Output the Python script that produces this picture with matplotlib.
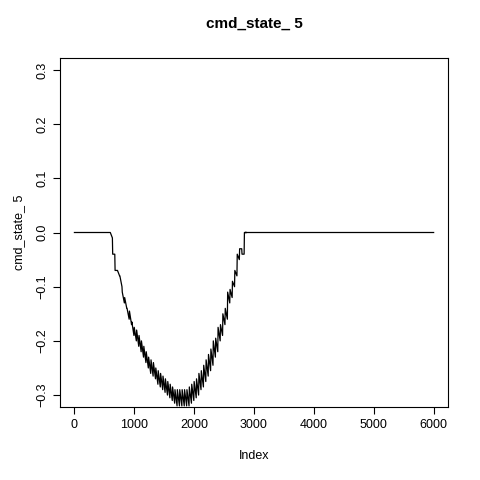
import numpy as np
import matplotlib
matplotlib.use("Agg")
import matplotlib.pyplot as plt

# tooth positions along the index and their low / high values
tooth_x = list(range(600, 2880, 40))
tooth_low = [-0.01, -0.04, -0.07, -0.08, -0.10, -0.13, -0.14, -0.16, -0.17, -0.19,
             -0.20, -0.21, -0.22, -0.23, -0.24, -0.25, -0.26, -0.265, -0.27, -0.28,
             -0.285, -0.29, -0.295, -0.30, -0.305, -0.31, -0.315, -0.32, -0.32, -0.32,
             -0.32, -0.32, -0.32, -0.315, -0.31, -0.305, -0.30, -0.29, -0.285, -0.275,
             -0.265, -0.255, -0.245, -0.23, -0.22, -0.20, -0.19, -0.17, -0.16, -0.13,
             -0.12, -0.10, -0.08, -0.05, -0.03, -0.04, 0.0]
tooth_amp = [0.01, 0.0, 0.0, 0.01, 0.02, 0.02, 0.02, 0.02, 0.025, 0.025,
             0.025, 0.03, 0.03, 0.03, 0.03, 0.03, 0.03, 0.03, 0.03, 0.03,
             0.03, 0.03, 0.03, 0.03, 0.03, 0.03, 0.03, 0.03, 0.03, 0.03,
             0.03, 0.03, 0.03, 0.03, 0.03, 0.03, 0.03, 0.03, 0.03, 0.03,
             0.03, 0.03, 0.03, 0.03, 0.025, 0.025, 0.02, 0.02, 0.02, 0.02,
             0.015, 0.01, 0.01, 0.01, 0.0, 0.0, 0.0]
n_total = 6000

xs = [1, 580]
ys = [0.0, 0.0]
for x, lo, a in zip(tooth_x, tooth_low, tooth_amp):
    xs += [x, x + 35]
    ys += [lo + a, lo]
xs += [2850, n_total]
ys += [0.0, 0.0]

plt.rcParams['font.family'] = ['Liberation Sans', 'DejaVu Sans']
fig = plt.figure(figsize=(4.8, 4.8), dpi=100)
ax = fig.add_axes([60 / 480, 73 / 480, 388 / 480, 349 / 480])
ax.plot(xs, ys, color='black', lw=0.9)
ax.set_xlim(-240, 6240)
ax.set_ylim(-0.322, 0.322)
ax.set_xticks([0, 1000, 2000, 3000, 4000, 5000, 6000])
ax.set_yticks([-0.3, -0.2, -0.1, 0.0, 0.1, 0.2, 0.3])
ax.tick_params(labelsize=9, length=5)
plt.setp(ax.get_yticklabels(), rotation=90, va='center')
ax.set_xlabel('Index', fontsize=9, labelpad=14)
ax.set_ylabel('cmd_state_ 5', fontsize=9, labelpad=8)
ax.set_title('cmd_state_ 5', fontsize=11, fontweight='bold', pad=22)
fig.savefig('out.png')
